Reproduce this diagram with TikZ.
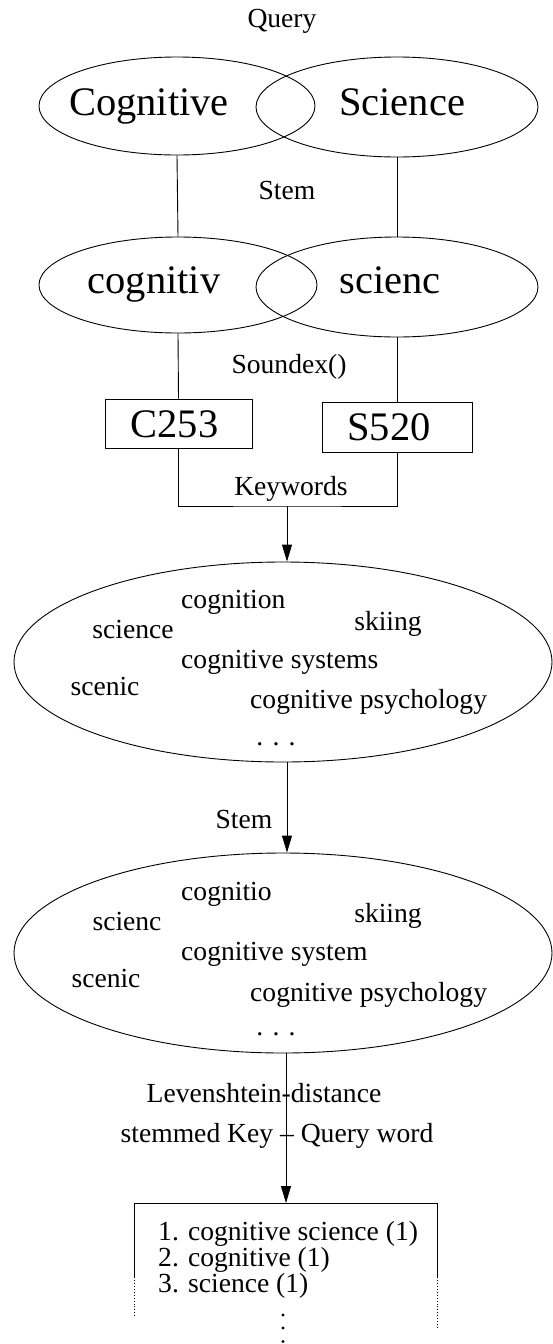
\documentclass[tikz,border=0pt]{standalone}
\usepackage{fontspec}
\setmainfont{Liberation Serif}
\usetikzlibrary{shapes.geometric,arrows.meta}
\begin{document}
\begin{tikzpicture}[x=1pt,y=-1pt,
  lbl/.style={font=\fontsize{27.6}{32}\selectfont, inner sep=0, anchor=base},
  lblw/.style={font=\fontsize{27.6}{32}\selectfont, inner sep=0, anchor=base west},
  big/.style={font=\fontsize{40.5}{46}\selectfont, inner sep=0, anchor=base},
  ell/.style={draw, ellipse, inner sep=0, line width=0.9pt},
  boxr/.style={draw, rectangle, inner sep=0, line width=0.9pt},
  conn/.style={line width=0.9pt},
  arr/.style={line width=0.9pt, -{Triangle[length=17pt,width=10pt]}}]
\useasboundingbox (0,0) rectangle (553,1344);

% query row
\node[lbl] (q) at (282,27) {Query};
\node[ell, minimum width=276, minimum height=98] (cogE) at (177,106) {};
\node[ell, minimum width=282, minimum height=100] (sciE) at (397,107) {};
\node[big] (cogT) at (149,115) {Cognitive};
\node[big] (sciT) at (402,115) {Science};

% stem row
\node[lbl] (stem1) at (287,199) {Stem};
\node[ell, minimum width=278, minimum height=96] (cogsE) at (178,285) {};
\node[ell, minimum width=282, minimum height=100] (scisE) at (397,287) {};
\node[big] (cogsT) at (154,293) {cognitiv};
\node[big] (scisT) at (390,293) {scienc};
\draw[conn] (cogE.south) -- (cogsE.north);
\draw[conn] (sciE.south) -- (scisE.north);

% soundex
\node[lbl] (sdx) at (289,373) {Soundex()};
\node[boxr, minimum width=147, minimum height=49] (c253) at (178.5,423.5) {};
\node[boxr, minimum width=150, minimum height=50] (s520) at (397,427) {};
\node[big] (c253T) at (174.5,437) {C253};
\node[big] (s520T) at (389,440) {S520};
\draw[conn] (cogsE.south) -- (c253.north);
\draw[conn] (scisE.south) -- (s520.north);

% keywords
\node[lbl] (kwl) at (291,495) {Keywords};
\coordinate (kw) at (287,506);
\draw[conn] (c253.south) |- (kw) -| (s520.south);
\node[ell, minimum width=538, minimum height=200] (kwE) at (283,662) {};
\draw[arr] (kw) -- (kw |- kwE.north);

\node[lblw] (k1) at (181,608) {cognition};
\node[lbl]  (k2) at (133,638) {science};
\node[lbl]  (k3) at (388,630) {skiing};
\node[lblw] (k4) at (181,668) {cognitive systems};
\node[lbl]  (k5) at (105,695) {scenic};
\node[lblw] (k6) at (250,708) {cognitive psychology};
\node[lbl]  (k7) at (276,745) {. . .};

% stem 2
\node[lbl] (stem2) at (244,828) {Stem};
\node[ell, minimum width=538, minimum height=200] (stE) at (283,953) {};
\draw[arr] (kwE.south -| kw) -- (kw |- stE.north);

\node[lblw] (s1) at (181,900) {cognitio};
\node[lbl]  (s2) at (127,930) {scienc};
\node[lbl]  (s3) at (388,922) {skiing};
\node[lblw] (s4) at (181,960) {cognitive system};
\node[lbl]  (s5) at (106,987) {scenic};
\node[lblw] (s6) at (250,1001) {cognitive psychology};
\node[lbl]  (s7) at (276,1035) {. . .};

% levenshtein
\node[lbl] (lev1) at (264,1102) {Levenshtein-distance};
\node[lbl] (lev2) at (277,1142) {stemmed Key -- Query word};
\node[inner sep=0, minimum width=302, minimum height=74, anchor=north] (res) at (286,1203) {};
\draw[arr] (res.north |- stE.south) -- (res.north);
\draw[conn] (res.south west) -- (res.north west) -- (res.north east) -- (res.south east);
\draw[conn, dotted] (res.south west) -- ++(0,40);
\draw[conn, dotted] (res.south east) -- ++(0,50);

\node[lblw] (r1) at (158,1240) {1. cognitive science (1)};
\node[lblw] (r2) at (158,1266) {2. cognitive (1)};
\node[lblw] (r3) at (158,1292) {3. science (1)};

\fill (283,1315) circle (1.6);
\fill (283,1328) circle (1.6);
\fill (283,1341.5) circle (1.6);
\end{tikzpicture}
\end{document}
